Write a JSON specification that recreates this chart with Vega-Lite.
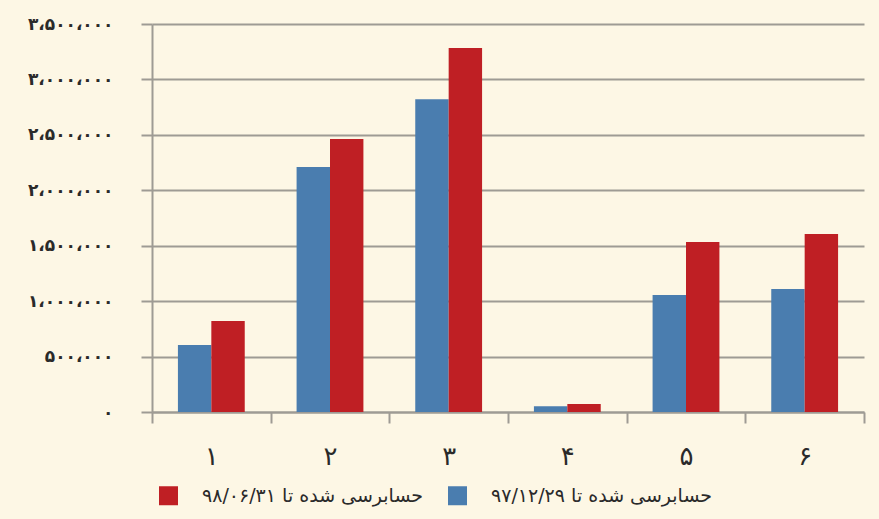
{
  "$schema": "https://vega.github.io/schema/vega-lite/v6.json",
  "autosize": {"type": "none"},
  "padding": {"left": 152, "top": 24, "right": 15, "bottom": 107},
  "width": 712,
  "height": 388,
  "background": "#FDF7E5",
  "config": {
    "view": {"stroke": null},
    "font": "DejaVu Sans"
  },
  "data": {
    "values": [
      {"cat": "۱", "series": "حسابرسی شده تا ۹۷/۱۲/۲۹", "value": 605000},
      {"cat": "۱", "series": "حسابرسی شده تا ۹۸/۰۶/۳۱", "value": 820000},
      {"cat": "۲", "series": "حسابرسی شده تا ۹۷/۱۲/۲۹", "value": 2210000},
      {"cat": "۲", "series": "حسابرسی شده تا ۹۸/۰۶/۳۱", "value": 2463000},
      {"cat": "۳", "series": "حسابرسی شده تا ۹۷/۱۲/۲۹", "value": 2821000},
      {"cat": "۳", "series": "حسابرسی شده تا ۹۸/۰۶/۳۱", "value": 3283000},
      {"cat": "۴", "series": "حسابرسی شده تا ۹۷/۱۲/۲۹", "value": 52000},
      {"cat": "۴", "series": "حسابرسی شده تا ۹۸/۰۶/۳۱", "value": 72000},
      {"cat": "۵", "series": "حسابرسی شده تا ۹۷/۱۲/۲۹", "value": 1055000},
      {"cat": "۵", "series": "حسابرسی شده تا ۹۸/۰۶/۳۱", "value": 1533000},
      {"cat": "۶", "series": "حسابرسی شده تا ۹۷/۱۲/۲۹", "value": 1110000},
      {"cat": "۶", "series": "حسابرسی شده تا ۹۸/۰۶/۳۱", "value": 1606000}
    ]
  },
  "mark": {"type": "bar"},
  "encoding": {
    "x": {
      "field": "cat",
      "type": "nominal",
      "sort": ["۱", "۲", "۳", "۴", "۵", "۶"],
      "scale": {"paddingInner": 0, "paddingOuter": 0},
      "axis": {
        "title": null,
        "tickBand": "extent",
        "labelAngle": 0,
        "domainColor": "#9e9b94",
        "domainWidth": 2,
        "tickColor": "#9e9b94",
        "tickWidth": 2,
        "tickSize": 11,
        "labelFontSize": 26,
        "labelColor": "#2a2a2a",
        "labelPadding": 20,
        "grid": false
      }
    },
    "xOffset": {
      "field": "series",
      "type": "nominal",
      "sort": ["حسابرسی شده تا ۹۷/۱۲/۲۹", "حسابرسی شده تا ۹۸/۰۶/۳۱"],
      "scale": {"paddingInner": 0, "paddingOuter": 0.776}
    },
    "y": {
      "field": "value",
      "type": "quantitative",
      "scale": {"domain": [0, 3500000], "nice": false},
      "axis": {
        "title": null,
        "values": [0, 500000, 1000000, 1500000, 2000000, 2500000, 3000000, 3500000],
        "labelExpr": "datum.value == 0 ? '۰' : datum.value == 500000 ? '۵۰۰،۰۰۰' : datum.value == 1000000 ? '۱،۰۰۰،۰۰۰' : datum.value == 1500000 ? '۱،۵۰۰،۰۰۰' : datum.value == 2000000 ? '۲،۰۰۰،۰۰۰' : datum.value == 2500000 ? '۲،۵۰۰،۰۰۰' : datum.value == 3000000 ? '۳،۰۰۰،۰۰۰' : '۳،۵۰۰،۰۰۰'",
        "labelFontSize": 17,
        "labelFontWeight": "bold",
        "labelColor": "#2a2a2a",
        "labelPadding": 28,
        "domainColor": "#9e9b94",
        "domainWidth": 2,
        "tickColor": "#9e9b94",
        "tickWidth": 2,
        "tickSize": 11,
        "grid": true,
        "gridColor": "#9e9b94",
        "gridWidth": 2
      }
    },
    "color": {
      "field": "series",
      "type": "nominal",
      "scale": {
        "domain": ["حسابرسی شده تا ۹۸/۰۶/۳۱", "حسابرسی شده تا ۹۷/۱۲/۲۹"],
        "range": ["#BF1F24", "#4A7DAF"]
      },
      "legend": {
        "title": null,
        "orient": "none",
        "direction": "horizontal",
        "legendX": 7,
        "legendY": 462,
        "symbolType": "square",
        "symbolSize": 361,
        "symbolStrokeWidth": 0,
        "symbolOpacity": 1,
        "labelFontSize": 19,
        "labelColor": "#2a2a2a",
        "labelOffset": 24,
        "labelLimit": 400,
        "columnPadding": 24
      }
    }
  }
}
